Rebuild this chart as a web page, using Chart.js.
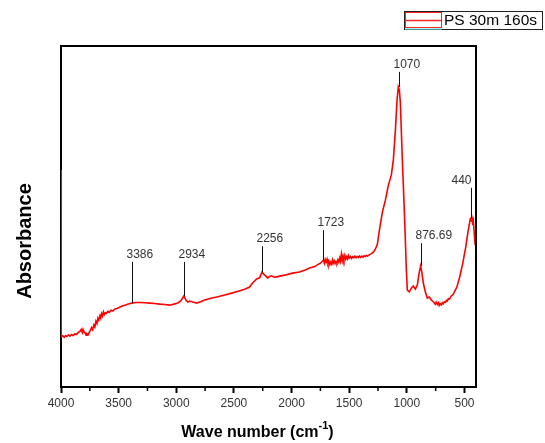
<!DOCTYPE html>
<html>
<head>
<meta charset="utf-8">
<script src="https://cdn.jsdelivr.net/npm/chart.js@4"></script>
<style>
  body { margin: 0; background: #fff; }
  #wrap { width: 545px; height: 443px; }
</style>
</head>
<body>
<div id="wrap"><canvas id="myChart" width="545" height="443"></canvas></div>
<script>
// spectrum (wavenumber in cm-1, absorbance in arbitrary units)
var wavenumber = [4000, 3998, 3985, 3972, 3960, 3948, 3935, 3922, 3910, 3895, 3879, 3865, 3850, 3835, 3825, 3815, 3809, 3800, 3790, 3782,
  3775, 3765, 3755, 3745, 3735, 3725, 3715, 3706, 3697, 3688, 3680, 3672, 3662, 3655, 3648, 3640, 3632, 3624, 3615, 3605,
  3593, 3580, 3565, 3550, 3535, 3515, 3495, 3480, 3446, 3410, 3386, 3350, 3316, 3270, 3229, 3190, 3143, 3100, 3056, 3020,
  2987, 2960, 2934, 2915, 2900, 2883, 2857, 2822, 2790, 2753, 2700, 2649, 2580, 2511, 2450, 2407, 2364, 2338, 2303, 2277,
  2256, 2240, 2225, 2208, 2190, 2173, 2150, 2130, 2061, 1991, 1931, 1880, 1844, 1800, 1775, 1750, 1723, 1715, 1708, 1700,
  1692, 1684, 1676, 1668, 1660, 1652, 1645, 1638, 1630, 1622, 1614, 1606, 1598, 1590, 1582, 1575, 1568, 1560, 1553, 1546,
  1538, 1530, 1522, 1515, 1507, 1500, 1490, 1480, 1470, 1460, 1450, 1440, 1430, 1420, 1410, 1400, 1390, 1380, 1370, 1360,
  1350, 1340, 1330, 1320, 1307, 1295, 1285, 1273, 1255, 1238, 1212, 1186, 1160, 1134, 1117, 1099, 1085, 1074, 1065, 1056,
  1048, 1039, 1022, 1013, 1004, 996, 978, 961, 944, 926, 909, 892, 880, 870, 857, 840, 822, 805, 788, 770,
  753, 745, 735, 725, 719, 710, 700, 692, 684, 675, 665, 657, 649, 640, 630, 615, 597, 580, 566, 554,
  540, 528, 515, 502, 489, 476, 467, 459, 450, 442, 437, 433, 428, 424, 416, 407];
var absorbance = [63.6, 14.7, 15.0, 14.6, 15.1, 14.8, 15.3, 14.9, 15.4, 15.1, 15.6, 15.4, 16.0, 16.4, 16.9, 16.0, 16.9, 16.2, 15.8, 15.2,
  15.6, 15.3, 16.0, 16.6, 17.4, 16.8, 18.2, 17.6, 19.3, 18.6, 20.2, 19.6, 20.9, 20.2, 21.5, 20.8, 22.0, 21.2, 21.8, 21.6,
  22.2, 21.9, 22.5, 22.3, 22.8, 23.0, 23.3, 23.6, 24.0, 24.4, 24.6, 24.8, 24.8, 24.7, 24.6, 24.5, 24.3, 24.2, 24.0, 24.3,
  24.6, 25.3, 26.7, 25.4, 24.9, 25.2, 24.9, 24.6, 25.0, 25.5, 26.0, 26.4, 27.0, 27.6, 28.2, 28.7, 29.3, 30.5, 31.7, 32.0,
  33.7, 33.0, 32.6, 32.0, 32.4, 32.6, 32.2, 32.3, 32.8, 33.4, 33.7, 34.3, 34.9, 35.3, 35.8, 36.3, 37.2, 36.3, 37.4, 36.6,
  37.5, 36.2, 36.9, 35.9, 36.6, 36.0, 37.2, 36.3, 37.0, 36.2, 36.8, 36.4, 37.3, 36.6, 37.8, 36.9, 38.9, 37.1, 38.4, 37.3,
  38.6, 37.5, 38.2, 37.6, 38.5, 37.8, 38.3, 37.7, 38.2, 37.9, 38.4, 37.9, 38.3, 38.0, 38.4, 38.0, 38.4, 38.1, 38.5, 38.3,
  38.6, 38.4, 38.7, 38.9, 39.1, 39.4, 39.8, 40.4, 41.9, 46.0, 51.3, 54.8, 59.2, 62.2, 66.6, 75.4, 84.2, 88.0, 87.1, 83.3,
  75.4, 66.6, 51.9, 43.1, 34.3, 28.4, 27.9, 29.0, 29.6, 28.7, 29.9, 33.7, 35.5, 33.7, 30.5, 27.9, 26.1, 26.4, 25.5, 25.0,
  24.3, 24.9, 24.2, 24.7, 23.9, 24.4, 24.1, 24.7, 24.4, 25.0, 24.8, 25.4, 25.2, 25.9, 25.8, 26.7, 27.2, 28.4, 29.3, 30.8,
  32.4, 34.3, 36.2, 38.7, 41.0, 44.0, 46.0, 47.5, 49.3, 49.6, 48.4, 49.4, 48.6, 49.0, 45.5, 41.6];

var xTicks = [4000, 3500, 3000, 2500, 2000, 1500, 1000, 500];
var xMinorTicks = [3750, 3250, 2750, 2250, 1750, 1250, 750];

// peak labels
var peakWn = [3386, 2934, 2256, 1723, 1070, 876.69, 440];
var peakText = ['3386', '2934', '2256', '1723', '1070', '876.69', '440'];
var peakValue = [24.6, 26.7, 33.7, 37.2, 88.0, 35.5, 49.6];
var peakLabelValue = [36.7, 36.7, 41.3, 46.0, 92.4, 42.2, 58.4];

var seriesName = 'PS 30m 160s';

var points = wavenumber.map(function (w, i) { return { x: w, y: absorbance[i] }; });

var FONT = 'Arial, "Liberation Sans", sans-serif';

var extras = {
  id: 'extras',
  beforeDatasetsDraw: function (chart) {
    var ctx = chart.ctx;
    var a = chart.chartArea;
    var xs = chart.scales.x;
    ctx.save();
    // frame
    ctx.strokeStyle = '#000';
    ctx.lineWidth = 2;
    ctx.strokeRect(a.left, a.top, a.right - a.left, a.bottom - a.top);
    // minor ticks
    ctx.lineWidth = 1.5;
    ctx.beginPath();
    xMinorTicks.forEach(function (v) {
      var p = xs.getPixelForValue(v);
      ctx.moveTo(p, a.bottom);
      ctx.lineTo(p, a.bottom + 4);
    });
    ctx.stroke();
    ctx.restore();
  },
  afterDatasetsDraw: function (chart) {
    var ctx = chart.ctx;
    var a = chart.chartArea;
    var xs = chart.scales.x, ys = chart.scales.y;
    ctx.save();

    // peak markers
    ctx.font = '12px ' + FONT;
    ctx.textBaseline = 'bottom';
    for (var i = 0; i < peakWn.length; i++) {
      var px = Math.round(xs.getPixelForValue(peakWn[i])) + 0.5;
      var yTop = ys.getPixelForValue(peakLabelValue[i]);
      var yBot = ys.getPixelForValue(peakValue[i]);
      ctx.strokeStyle = '#111';
      ctx.lineWidth = 1;
      ctx.beginPath();
      ctx.moveTo(px, yTop);
      ctx.lineTo(px, yBot);
      ctx.stroke();
      var w = ctx.measureText(peakText[i]).width;
      var tx = px - 6;
      if (tx + w > a.right - 2) tx = px - w;
      ctx.fillStyle = '#333';
      ctx.textAlign = 'left';
      ctx.fillText(peakText[i], tx, yTop - 1);
    }

    // right frame edge drawn over the line end
    ctx.strokeStyle = '#000';
    ctx.lineWidth = 2;
    ctx.beginPath();
    ctx.moveTo(a.right, a.top);
    ctx.lineTo(a.right, a.bottom);
    ctx.stroke();

    // axis titles
    ctx.fillStyle = '#000';
    ctx.textBaseline = 'middle';
    ctx.font = 'bold 16px ' + FONT;
    var main = 'Wave number (cm';
    var sup = '-1';
    var wMain = ctx.measureText(main).width;
    var wClose = ctx.measureText(')').width;
    ctx.font = 'bold 11px ' + FONT;
    var wSup = ctx.measureText(sup).width;
    var total = wMain + wSup + wClose;
    var cx = (a.left + a.right) / 2 - 11;
    var x0 = cx - total / 2;
    var ty = 433;
    ctx.textAlign = 'left';
    ctx.font = 'bold 16px ' + FONT;
    ctx.fillText(main, x0, ty);
    ctx.fillText(')', x0 + wMain + wSup, ty);
    ctx.font = 'bold 11px ' + FONT;
    ctx.fillText(sup, x0 + wMain, ty - 7);

    ctx.save();
    ctx.translate(25, 241);
    ctx.rotate(-Math.PI / 2);
    ctx.textAlign = 'center';
    ctx.font = 'bold 20px ' + FONT;
    ctx.fillText('Absorbance', 0, 0);
    ctx.restore();

    // legend
    ctx.lineWidth = 1;
    ctx.strokeStyle = '#222';
    ctx.strokeRect(404.5, 11.5, 138, 18);
    ctx.strokeStyle = '#ff2020';
    ctx.strokeRect(405.5, 12.5, 36, 15);
    ctx.lineWidth = 1.5;
    ctx.beginPath();
    ctx.moveTo(405, 20.5);
    ctx.lineTo(442, 20.5);
    ctx.stroke();
    ctx.strokeStyle = '#60ffff';
    ctx.lineWidth = 1;
    ctx.beginPath();
    ctx.moveTo(405, 29);
    ctx.lineTo(442, 29);
    ctx.stroke();
    ctx.fillStyle = '#000';
    ctx.font = '15.5px ' + FONT;
    ctx.textAlign = 'left';
    ctx.textBaseline = 'middle';
    ctx.fillText(seriesName, 444, 21);

    ctx.restore();
  }
};

var ctx = document.getElementById('myChart').getContext('2d');
var myChart = new Chart(ctx, {
  type: 'scatter',
  data: {
    datasets: [{
      label: seriesName,
      data: points,
      showLine: true,
      borderColor: '#ff0000',
      backgroundColor: '#ff0000',
      borderWidth: 1.6,
      pointRadius: 0,
      tension: 0
    }]
  },
  options: {
    responsive: false,
    animation: false,
    layout: { padding: { left: 61, right: 69, top: 46, bottom: 0 } },
    plugins: { legend: { display: false }, tooltip: { enabled: false } },
    scales: {
      x: {
        type: 'linear',
        reverse: true,
        min: 400,
        max: 4000,
        afterBuildTicks: function (scale) {
          scale.ticks = xTicks.map(function (v) { return { value: v }; });
        },
        afterFit: function (scale) { scale.height = 56; },
        border: { display: false },
        grid: { drawOnChartArea: false, drawTicks: true, tickLength: 6, tickColor: '#000', tickWidth: 2 },
        ticks: {
          autoSkip: false,
          maxRotation: 0,
          padding: 3,
          color: '#333',
          font: { family: FONT, size: 12 },
          callback: function (v) { return String(v); }
        }
      },
      y: {
        display: false,
        min: 0,
        max: 100
      }
    }
  },
  plugins: [extras]
});
</script>
</body>
</html>
